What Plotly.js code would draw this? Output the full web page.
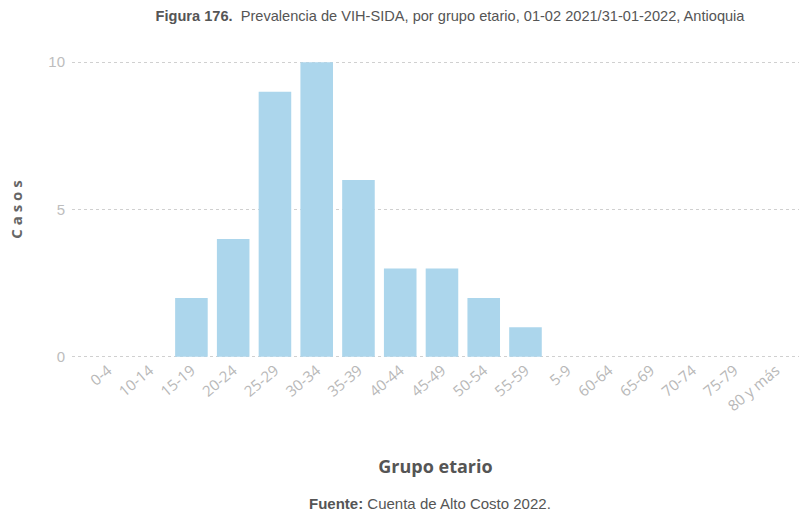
<!DOCTYPE html>
<html>
<head>
<meta charset="utf-8">
<script src="https://cdn.plot.ly/plotly-3.0.1.min.js"></script>
<style>html,body{margin:0;padding:0;background:#fff;}#chart{width:799px;height:522px;}</style>
</head>
<body>
<div id="chart"></div>
<script>
var categories = ["0-4","10-14","15-19","20-24","25-29","30-34","35-39","40-44","45-49","50-54","55-59","5-9","60-64","65-69","70-74","75-79","80 y más"];
var casos = [0,0,2,4,9,10,6,3,3,2,1,0,0,0,0,0,0];
var yTicks = [0,5,10];

var trace = {
  type: 'bar',
  x: categories,
  y: casos,
  marker: {color: '#acd6ec'},
  width: 0.78,
  hoverinfo: 'x+y'
};

var layout = {
  width: 799, height: 522,
  margin: {l: 72, r: 0, t: 61, b: 164},
  paper_bgcolor: '#fff', plot_bgcolor: '#fff',
  showlegend: false,
  title: {
    text: '<b>Figura 176.</b>  Prevalencia de VIH-SIDA, por grupo etario, 01-02 2021/31-01-2022, Antioquia',
    font: {family: 'Liberation Sans Narrow, Liberation Sans, sans-serif', size: 14.6, color: '#555'},
    x: 450/799, xref: 'container', xanchor: 'center',
    y: 1 - 16/522, yref: 'container', yanchor: 'middle'
  },
  xaxis: {
    type: 'category',
    categoryorder: 'array', categoryarray: categories,
    range: [-0.86, 16.55],
    tickangle: -40,
    tickfont: {family: 'Open Sans, sans-serif', size: 15, color: '#b8b8b8'},
    showgrid: false, zeroline: false, showline: false, ticks: '',
    title: {text: '<b>Grupo etario</b>', font: {family: 'Open Sans, sans-serif', size: 18, color: '#555'}, standoff: 46}
  },
  yaxis: {
    range: [-0.04, 10.04],
    tickvals: yTicks,
    ticktext: yTicks.map(String),
    ticklabelstandoff: 6,
    tickfont: {family: 'Liberation Sans Narrow, sans-serif', size: 15, color: '#bdbdbd'},
    showgrid: true, gridcolor: '#d0d0d0', griddash: 'dot', gridwidth: 1,
    zeroline: false, showline: false, ticks: '',
    title: {text: '<b>C a s o s</b>', font: {family: 'Open Sans, sans-serif', size: 15, color: '#666'}, standoff: 22}
  },
  annotations: [{
    text: '<b>Fuente:</b> Cuenta de Alto Costo 2022.',
    xref: 'paper', yref: 'paper', x: (430-72)/727, y: 1 - (503-61)/297,
    xanchor: 'center', yanchor: 'middle', showarrow: false,
    font: {family: 'Liberation Sans Narrow, sans-serif', size: 15, color: '#555'}
  }]
};

Plotly.newPlot('chart', [trace], layout, {displayModeBar: false, staticPlot: true});
</script>
</body>
</html>
